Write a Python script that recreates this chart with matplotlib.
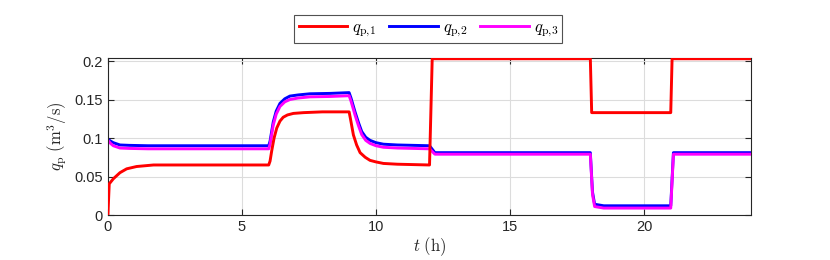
import matplotlib.pyplot as plt

# данные (время в часах, расход в м3/с)
t_1 = [0, 0.05, 0.2, 0.45, 0.7, 1.07, 1.7, 3.0, 6.0,
       6.05, 6.11, 6.2, 6.3, 6.42, 6.54, 6.7, 6.92, 7.3, 8.0, 9.0,
       9.05, 9.16, 9.28, 9.41, 9.6, 9.78, 10.0, 10.28, 10.8, 12.0,
       12.1, 18.0, 18.05, 21.0, 21.05, 24.0]
q_1 = [0, 0.0405, 0.047, 0.055, 0.060, 0.063, 0.065, 0.065, 0.065,
       0.070, 0.083, 0.100, 0.113, 0.122, 0.127, 0.130, 0.132, 0.133, 0.134, 0.134,
       0.125, 0.104, 0.091, 0.081, 0.075, 0.071, 0.069, 0.067, 0.066, 0.065,
       0.203, 0.203, 0.133, 0.133, 0.203, 0.203]

t_2 = [0, 0.1, 0.2, 0.45, 0.8, 1.5, 6.0,
       6.05, 6.17, 6.28, 6.42, 6.6, 6.79, 7.1, 7.54, 8.3, 9.0,
       9.07, 9.22, 9.35, 9.47, 9.62, 9.78, 10.0, 10.28, 10.8, 12.0,
       12.2, 18.0, 18.08, 18.16, 18.5, 21.0, 21.1, 24.0]
q_2 = [0.0985, 0.096, 0.094, 0.091, 0.0905, 0.090, 0.090,
       0.096, 0.121, 0.135, 0.145, 0.151, 0.1545, 0.156, 0.1575, 0.158, 0.159,
       0.152, 0.134, 0.120, 0.1085, 0.101, 0.097, 0.094, 0.092, 0.091, 0.090,
       0.081, 0.081, 0.030, 0.014, 0.012, 0.012, 0.081, 0.081]

t_3 = [0, 0.1, 0.2, 0.45, 0.8, 1.5, 6.0,
       6.05, 6.17, 6.28, 6.42, 6.6, 6.79, 7.1, 7.54, 8.3, 9.0,
       9.07, 9.22, 9.35, 9.47, 9.62, 9.78, 10.0, 10.28, 10.8, 12.0,
       12.2, 18.0, 18.08, 18.16, 18.5, 21.0, 21.1, 24.0]
q_3 = [0.097, 0.093, 0.090, 0.087, 0.0865, 0.086, 0.086,
       0.092, 0.117, 0.131, 0.141, 0.147, 0.150, 0.152, 0.1535, 0.154, 0.155,
       0.148, 0.130, 0.116, 0.1045, 0.097, 0.093, 0.090, 0.088, 0.087, 0.086,
       0.079, 0.079, 0.027, 0.011, 0.009, 0.009, 0.079, 0.079]

x_ticks = [0, 5, 10, 15, 20]
y_ticks = [0, 0.05, 0.1, 0.15, 0.2]
y_tick_labels = ['0', '0.05', '0.1', '0.15', '0.2']

plt.rcParams['font.family'] = ['Liberation Sans', 'DejaVu Sans']
plt.rcParams['mathtext.fontset'] = 'cm'

fig = plt.figure(figsize=(8.3, 2.6), dpi=100)
ax = fig.add_axes([0.130, 0.173, 0.775, 0.604])

ax.plot(t_1, q_1, color='#ff0000', lw=2.1, label=r'$q_{\mathrm{p}{,}1}$', zorder=3)
ax.plot(t_2, q_2, color='#0000ff', lw=2.1, label=r'$q_{\mathrm{p}{,}2}$', zorder=2)
ax.plot(t_3, q_3, color='#ff00ff', lw=2.1, label=r'$q_{\mathrm{p}{,}3}$', zorder=2.5)

ax.set_xlim(0, 24)
ax.set_ylim(0, 0.204)
ax.set_xticks(x_ticks)
ax.set_yticks(y_ticks)
ax.set_yticklabels(y_tick_labels)
ax.tick_params(direction='in', top=True, right=True, labelsize=10.5, length=4,
               color='#262626', labelcolor='#262626')
ax.grid(True, color='#dcdcdc', lw=0.8)
ax.set_axisbelow(True)
for s in ax.spines.values():
    s.set_color('#262626')
    s.set_linewidth(0.8)

ax.set_xlabel(r'$t\ (\mathrm{h})$', fontsize=12, color='#262626', labelpad=1)
ax.set_ylabel(r'$q_{\mathrm{p}}\ (\mathrm{m}^3/\mathrm{s})$', fontsize=12, color='#262626', labelpad=4)

leg = fig.legend(loc='center', bbox_to_anchor=(0.516, 0.888), ncol=3, fontsize=12,
                 frameon=True, fancybox=False, edgecolor='#262626', handlelength=2.9,
                 columnspacing=0.8, handletextpad=0.3, borderpad=0.25, borderaxespad=0)
leg.get_frame().set_linewidth(0.8)

fig.savefig('out.png', dpi=100)
